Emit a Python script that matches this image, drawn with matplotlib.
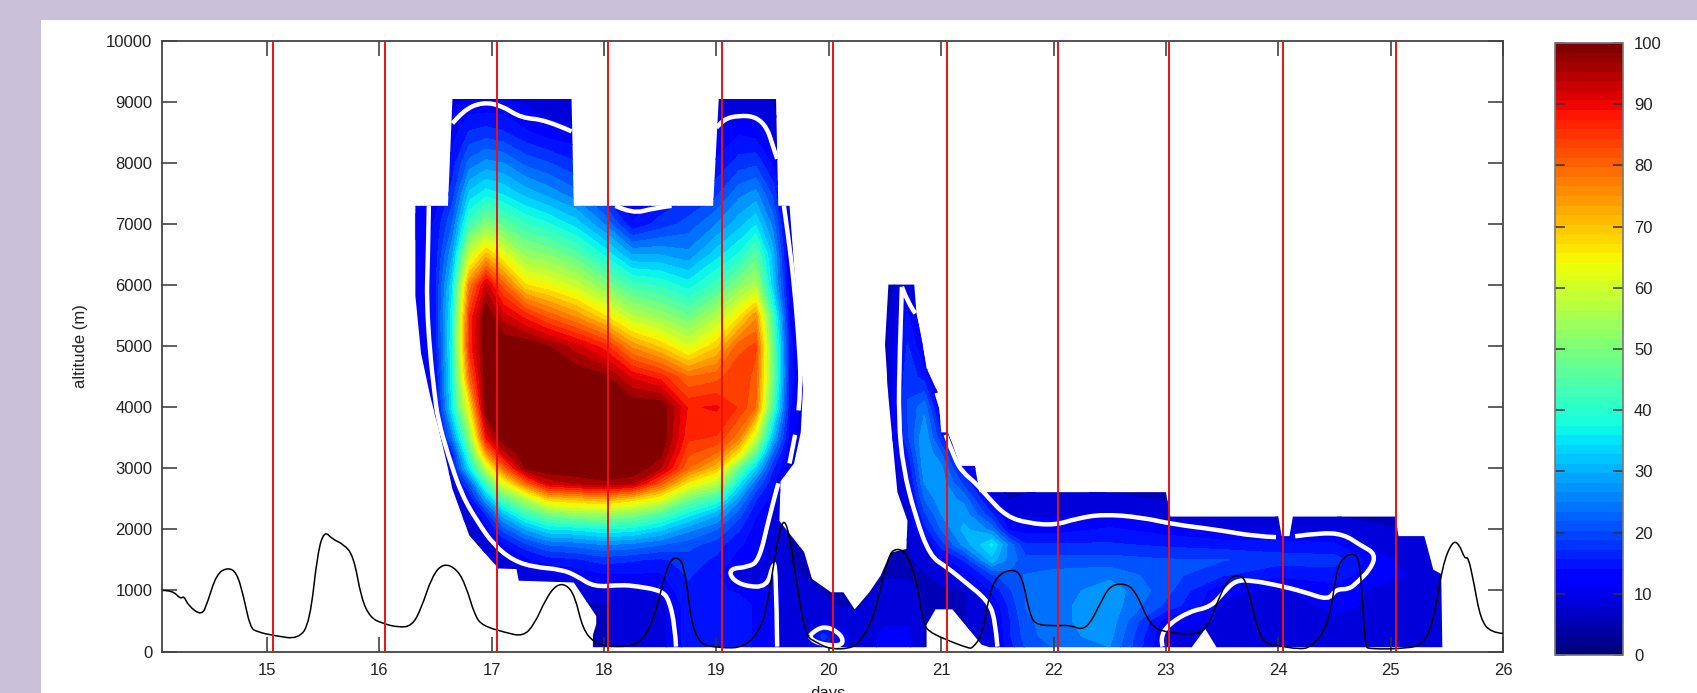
import matplotlib
matplotlib.use('Agg')
import matplotlib.pyplot as plt
from matplotlib.cm import ScalarMappable
from matplotlib.colors import Normalize
from matplotlib.path import Path
from matplotlib.patches import PathPatch, Rectangle
import numpy as np

plt.rcParams['font.family'] = ['Liberation Sans', 'DejaVu Sans']

# grid of the coloured field (days, altitude in m)
days_grid = [16.3, 16.5, 16.65, 16.8, 16.95, 17.1, 17.3, 17.5, 17.75, 18, 18.25, 18.5, 18.75, 19,
             19.2, 19.35, 19.5, 19.65, 19.8, 19.95, 20.1, 20.25, 20.5, 20.7, 20.85, 21, 21.2,
             21.45, 21.6, 21.75, 22, 22.5, 23, 23.5, 24, 24.5, 24.85, 25.2, 25.5]
alt_grid = [70, 250, 500, 750, 1000, 1250, 1500, 1750, 2000, 2250, 2500, 2750, 3000, 3250, 3500,
            4000, 4500, 5000, 5500, 6000, 6500, 7000, 7500, 8000, 8500, 9000, 9100]

# one line per day column, bottom to top
field_columns = [
    [5, 5, 5, 5, 5, 5, 5, 5, 5, 5, 5, 5, 5, 5, 6, 7, 8, 9, 9, 9, 9, 9, 9, 8, 5, 5, 5],
    [5, 5, 5, 5, 5, 5, 5, 5, 5, 5, 5, 5, 6, 7, 8, 10, 12, 14, 15, 15, 14, 13, 11, 9, 8, 6, 6],
    [5, 5, 5, 5, 5, 5, 5, 5, 5, 5, 6, 8, 12, 15, 24, 36, 37, 38, 37, 34, 28, 22, 17, 14, 11, 9, 9],
    [5, 5, 5, 5, 5, 5, 5, 5, 6, 8, 12, 20, 34, 42, 50, 64, 78, 85, 84, 76, 58, 42, 32, 23, 16, 10, 8],
    [5, 5, 5, 5, 5, 5, 6, 7, 10, 16, 28, 42, 57, 74, 88, 100, 100, 100, 100, 92, 70, 50, 36, 26, 17, 10, 8],
    [5, 5, 5, 5, 5, 6, 8, 12, 20, 30, 44, 60, 78, 92, 100, 100, 100, 100, 92, 80, 62, 46, 34, 25, 16, 10, 8],
    [5, 5, 5, 5, 6, 8, 11, 18, 28, 41, 55, 78, 97, 100, 100, 100, 100, 100, 86, 66, 52, 41, 30, 21, 13, 9, 8],
    [5, 5, 5, 5, 7, 9, 14, 22, 34, 48, 68, 91, 100, 100, 100, 100, 100, 97, 80, 63, 50, 38, 27, 19, 11, 7, 7],
    [5, 5, 5, 5, 8, 10, 15, 23, 35, 52, 70, 94, 100, 100, 100, 100, 100, 92, 74, 58, 45, 33, 23, 16, 10, 7, 7],
    [6, 6, 6, 6, 9, 12, 17, 25, 37, 52, 72, 96, 100, 100, 100, 100, 98, 86, 66, 50, 37, 25, 15, 10, 8, 7, 7],
    [7, 7, 7, 7, 9, 12, 16, 24, 36, 50, 68, 94, 100, 100, 100, 100, 90, 74, 56, 42, 28, 13, 8, 8, 7, 7, 7],
    [8, 8, 8, 8, 10, 12, 15, 22, 32, 44, 62, 80, 94, 98, 100, 100, 86, 68, 52, 40, 28, 17, 12, 9, 8, 7, 7],
    [14, 14, 14, 14, 15, 16, 17, 20, 26, 36, 48, 64, 78, 82, 85, 87, 78, 60, 47, 36, 26, 20, 15, 11, 9, 8, 8],
    [15, 15, 15, 14, 13, 13, 15, 17, 22, 29, 41, 56, 69, 78, 84, 88, 80, 68, 55, 42, 33, 25, 18, 13, 10, 8, 8],
    [14, 14, 14, 14, 12, 7, 11, 13, 16, 20, 26, 35, 46, 65, 76, 84, 84, 80, 65, 50, 38, 30, 24, 17, 12, 8, 8],
    [12, 12, 12, 12, 11, 8, 10, 11, 11, 13, 16, 22, 32, 45, 58, 78, 80, 82, 74, 55, 45, 34, 26, 18, 11, 8, 8],
    [11, 11, 11, 11, 11, 10, 9, 8, 8, 9, 11, 13, 16, 22, 30, 43, 48, 47, 42, 32, 30, 24, 18, 12, 8, 6, 6],
    [7, 7, 7, 7, 8, 7, 6, 6, 6, 6, 6, 7, 8, 9, 11, 13, 14, 14, 12, 10, 8, 7, 6, 5, 5, 5, 5],
    [8, 8, 8, 7, 7, 6, 5, 5, 5, 5, 5, 5, 5, 5, 6, 7, 7, 6, 6, 5, 5, 5, 5, 5, 5, 5, 5],
    [13, 17, 9, 7, 6, 5, 5, 5, 5, 5, 5, 5, 5, 5, 5, 5, 5, 5, 5, 5, 5, 5, 5, 5, 5, 5, 5],
    [10, 11, 8, 6, 5, 5, 5, 5, 5, 5, 5, 5, 5, 5, 5, 5, 5, 5, 5, 5, 5, 5, 5, 5, 5, 5, 5],
    [8, 8, 7, 6, 5, 5, 5, 5, 5, 5, 5, 5, 5, 5, 5, 5, 5, 5, 5, 5, 5, 5, 5, 5, 5, 5, 5],
    [10, 10, 9, 8, 7, 6, 6, 5, 5, 5, 5, 5, 5, 5, 5, 5, 5, 5, 5, 5, 5, 5, 5, 5, 5, 5, 5],
    [10, 10, 9, 8, 7, 6, 6, 6, 7, 7, 8, 10, 12, 15, 18, 19, 18, 16, 13, 8, 7, 7, 7, 7, 7, 7, 7],
    [6, 6, 6, 6, 6, 6, 7, 8, 14, 18, 22, 25, 27, 28, 28, 24, 14, 9, 6, 5, 5, 5, 5, 5, 5, 5, 5],
    [6, 6, 6, 6, 6, 7, 11, 17, 22, 25, 27, 27, 26, 22, 16, 9, 6, 5, 5, 5, 5, 5, 5, 5, 5, 5, 5],
    [6, 6, 6, 6, 6, 10, 16, 26, 29, 27, 24, 18, 12, 9, 6, 5, 5, 5, 5, 5, 5, 5, 5, 5, 5, 5, 5],
    [7, 7, 8, 9, 13, 18, 30, 35, 24, 16, 10, 8, 6, 5, 5, 5, 5, 5, 5, 5, 5, 5, 5, 5, 5, 5, 5],
    [14, 15, 15, 16, 18, 21, 24, 24, 12, 9, 6, 5, 5, 5, 5, 5, 5, 5, 5, 5, 5, 5, 5, 5, 5, 5, 5],
    [19, 20, 21, 22, 22, 22, 20, 16, 11, 9, 7, 5, 5, 5, 5, 5, 5, 5, 5, 5, 5, 5, 5, 5, 5, 5, 5],
    [22, 24, 24, 24, 23, 23, 20, 16, 11, 9, 8, 5, 5, 5, 5, 5, 5, 5, 5, 5, 5, 5, 5, 5, 5, 5, 5],
    [25, 26, 27, 27, 27, 24, 20, 16, 13, 9, 7, 5, 5, 5, 5, 5, 5, 5, 5, 5, 5, 5, 5, 5, 5, 5, 5],
    [9, 9, 11, 18, 20, 20, 19, 15, 11, 8, 6, 5, 5, 5, 5, 5, 5, 5, 5, 5, 5, 5, 5, 5, 5, 5, 5],
    [8, 8, 9, 9, 10, 16, 19, 14, 9, 6, 5, 5, 5, 5, 5, 5, 5, 5, 5, 5, 5, 5, 5, 5, 5, 5, 5],
    [8, 8, 8, 8, 9, 13, 17, 14, 8, 6, 5, 5, 5, 5, 5, 5, 5, 5, 5, 5, 5, 5, 5, 5, 5, 5, 5],
    [9, 9, 9, 10, 11, 14, 17, 13, 9, 6, 5, 5, 5, 5, 5, 5, 5, 5, 5, 5, 5, 5, 5, 5, 5, 5, 5],
    [9, 9, 9, 9, 9, 11, 11, 8, 7, 5, 5, 5, 5, 5, 5, 5, 5, 5, 5, 5, 5, 5, 5, 5, 5, 5, 5],
    [9, 9, 9, 9, 9, 9, 8, 7, 6, 5, 5, 5, 5, 5, 5, 5, 5, 5, 5, 5, 5, 5, 5, 5, 5, 5, 5],
    [9, 9, 9, 9, 9, 9, 8, 7, 6, 5, 5, 5, 5, 5, 5, 5, 5, 5, 5, 5, 5, 5, 5, 5, 5, 5, 5],
]

# outer edge of the coloured area
region_x = [17.9, 17.9, 17.93, 17.93, 17.85, 17.73, 17.24, 17.22, 17.06, 16.92, 16.8, 16.65, 16.61,
            16.54, 16.45, 16.37, 16.32, 16.32, 16.61, 16.65, 17.71, 17.73, 18.97, 19.02, 19.53,
            19.55, 19.65, 19.69, 19.77, 19.75, 19.69, 19.57, 19.56, 19.78, 19.85, 20.02, 20.13,
            20.23, 20.36, 20.46, 20.55, 20.69, 20.70, 20.61, 20.53, 20.5, 20.53, 20.76, 20.78,
            20.88, 20.97, 21.0, 21.06, 21.17, 21.3, 21.34, 23.0, 23.04, 24.0, 24.03, 24.1, 24.13,
            25.04, 25.07, 25.3, 25.38, 25.45, 25.46, 23.45, 23.35, 23.23, 21.43, 21.36, 21.1,
            20.95, 20.87, 20.87]
region_y = [70, 270, 450, 580, 800, 1130, 1160, 1350, 1360, 1650, 1900, 2660, 3000,
            3550, 4200, 4890, 5830, 7300, 7300, 9050, 9050, 7300, 7300, 9050, 9050,
            7300, 7300, 6340, 4310, 3590, 3080, 2790, 2140, 1630, 1190, 970, 970,
            690, 970, 1240, 1620, 1680, 2140, 2610, 4170, 5030, 6010, 6010, 5540,
            4600, 4240, 3590, 3590, 3040, 3040, 2610, 2610, 2210, 2210, 1890, 1890, 2210,
            2210, 1890, 1890, 1340, 1270, 70, 70, 370, 70, 70, 110, 690,
            690, 440, 70]

# white 10 % isoline, piece by piece
white_lines = [
    ([16.65, 16.75, 16.92, 17.09, 17.26, 17.48, 17.71], [8650, 8870, 9000, 8940, 8740, 8710, 8520]),
    ([19.0, 19.06, 19.2, 19.35, 19.45, 19.5, 19.54], [8580, 8720, 8780, 8760, 8580, 8290, 8070]),
    ([18.1, 18.25, 18.44, 18.6], [7300, 7170, 7260, 7300]),
    ([16.44, 16.43, 16.42, 16.45, 16.49, 16.52, 16.61, 16.73, 16.88, 17.02, 17.19, 17.38, 17.62,
      17.76, 17.91, 18.15, 18.29, 18.51, 18.58, 18.63, 18.64],
     [7296, 6334, 5756, 4888, 4237, 3803, 3225, 2574, 2104, 1743, 1490, 1381, 1345,
      1236, 1056, 1092, 1070, 998, 839, 405, 80]),
    ([19.6, 19.63, 19.69, 19.74, 19.75, 19.73], [7300, 6912, 6045, 4888, 4310, 3948]),
    ([19.7, 19.65], [3550, 3080]),
    ([19.55, 19.47, 19.38, 19.28, 19.12, 19.13, 19.25, 19.45, 19.5, 19.53, 19.54],
     [2755, 2213, 1490, 1381, 1359, 1200, 1070, 1056, 1417, 1417, 80]),
    ([19.83, 19.9, 20.02, 20.13, 20.11, 19.85, 19.83], [257, 393, 393, 230, 76, 148, 257]),
    ([20.65, 20.63, 20.62, 20.66, 20.77, 20.9, 21.05, 21.22, 21.41, 21.48, 21.5],
     [5973, 4888, 3803, 3008, 2213, 1562, 1381, 1128, 839, 550, 80]),
    ([20.65, 20.71, 20.77], [5973, 5683, 5539]),
    ([20.86, 20.89], [4996, 4635]),
    ([20.96, 21.02], [4237, 3876]),
    ([21.04, 21.12, 21.19, 21.31, 21.41, 21.58, 21.77, 22.01, 22.2, 22.44, 22.78, 23.07, 23.45,
      23.79, 23.98],
     [3550, 3153, 2936, 2755, 2538, 2213, 2104, 2068, 2176, 2249, 2198, 2082, 1996, 1887, 1873]),
    ([24.15, 24.37, 24.58, 24.73, 24.87, 24.82, 24.7, 24.63, 24.51, 24.45, 24.22, 23.98, 23.76,
      23.62, 23.52, 23.4, 23.21, 23.02, 22.95, 22.97],
     [1887, 1945, 1923, 1743, 1598, 1345, 1128, 1020, 1020, 839, 983, 1092, 1164,
      1164, 983, 730, 658, 441, 224, 80]),
]

# black curve
curve_days = [14.07, 14.16, 14.23, 14.26, 14.30, 14.42, 14.47, 14.55, 14.65, 14.73, 14.79, 14.85, 14.91,
              15.07, 15.28, 15.38, 15.45, 15.51, 15.58, 15.68, 15.77, 15.84, 15.92, 16.02, 16.17,
              16.29, 16.37, 16.47, 16.57, 16.69, 16.77, 16.85, 16.92, 17.12, 17.28, 17.38, 17.48,
              17.57, 17.66, 17.74, 17.81, 17.91, 18.03, 18.31, 18.43, 18.51, 18.58, 18.66, 18.72,
              18.80, 19.02, 19.26, 19.41, 19.47, 19.57, 19.63, 19.71, 19.79, 19.89, 20.01, 20.19,
              20.27, 20.40, 20.53, 20.61, 20.69, 20.78, 20.84, 20.88, 21.03, 21.24, 21.28, 21.37,
              21.43, 21.51, 21.64, 21.72, 21.79, 21.85, 22.04, 22.14, 22.29, 22.42, 22.50, 22.63,
              22.73, 22.86, 23.0, 23.28, 23.38, 23.49, 23.57, 23.66, 23.72, 23.84, 24.01, 24.18,
              24.29, 24.45, 24.52, 24.58, 24.66, 24.73, 24.77, 24.81, 25.15, 25.29, 25.38, 25.46,
              25.55, 25.61, 25.66, 25.69, 25.74, 25.80, 25.89, 26.0]
curve_alt = [1000, 1000, 858, 912, 748, 585, 803, 1268, 1377, 1295, 912, 393, 322,
             257, 202, 475, 1623, 1978, 1841, 1759, 1568, 858, 557, 464, 393,
             421, 694, 1240, 1448, 1350, 1076, 585, 421, 311, 246, 448, 858,
             1087, 1104, 912, 366, 148, 76, 93, 475, 1022, 1486, 1557, 1350,
             148, 55, 66, 421, 967, 2115, 2115, 1186, 257, 148, 38, 49,
             148, 530, 1596, 1694, 1612, 1186, 475, 339, 202, 55, 55, 284,
             967, 1268, 1350, 1240, 585, 432, 421, 432, 339, 803, 1076, 1120,
             994, 421, 311, 273, 421, 967, 1213, 1257, 1131, 148, 93, 38,
             66, 421, 1350, 1541, 1612, 1514, 93, 38, 49, 120, 475, 1404,
             1814, 1759, 1514, 1557, 1131, 530, 311, 295]

red_days = [15.05, 16.05, 17.05, 18.03, 19.05, 20.04, 21.05, 22.04, 23.03, 24.04, 25.05]
x_ticks = list(range(15, 27))
y_ticks = list(range(0, 10001, 1000))
bar_ticks = list(range(0, 101, 10))


# rounded line with the read points as quadratic control points
def roundedPath(xs, ys):
    pts = np.column_stack([xs, ys])
    if len(pts) < 3:
        return Path(pts)
    verts = [pts[0]]
    codes = [Path.MOVETO]
    for i in range(1, len(pts) - 1):
        end = pts[i + 1] if i == len(pts) - 2 else (pts[i] + pts[i + 1]) / 2
        verts += [pts[i], end]
        codes += [Path.CURVE3, Path.CURVE3]
    return Path(verts, codes)


W, H = 1697, 693
fig = plt.figure(figsize=(W / 100, H / 100), dpi=100, facecolor='white')

# lilac page bands behind the plot
fig.patches.append(Rectangle((0, 1 - 20 / H), 1, 20 / H, transform=fig.transFigure, color='#cbc0da', lw=0))
fig.patches.append(Rectangle((0, 0), 41 / W, 1, transform=fig.transFigure, color='#cbc0da', lw=0))

ax = fig.add_axes([162 / W, 1 - 651.5 / H, (1503 - 162) / W, (651.5 - 41) / H])
ax.set_xlim(14.065, 26)
ax.set_ylim(0, 10000)

field = np.array(field_columns, dtype=float).T
levels = np.linspace(0, 100, 33)
cf = ax.contourf(days_grid, alt_grid, field, levels=levels, cmap='jet', vmin=0, vmax=98.4, zorder=1)
cf.set_clip_path(Path(np.column_stack([region_x, region_y])), ax.transData)

for xs, ys in white_lines:
    ax.add_patch(PathPatch(roundedPath(xs, ys), fill=False, edgecolor='white', lw=3.2,
                           capstyle='butt', zorder=2))

ax.add_patch(PathPatch(roundedPath(curve_days, curve_alt), fill=False, edgecolor='black', lw=1.1, zorder=3))
for d in red_days:
    ax.axvline(d, color='#f01010', lw=1.4, zorder=4)

ax.set_xticks(x_ticks)
ax.set_yticks(y_ticks)
ax.tick_params(axis='both', direction='in', length=11, width=1.1, color='#333333', top=True, right=True,
               labelsize=12, labelcolor='#222222')
ax.tick_params(axis='x', pad=8)
ax.tick_params(axis='y', pad=7)
for spine in ax.spines.values():
    spine.set_linewidth(1.3)
    spine.set_color('#444444')
ax.set_xlabel('days', fontsize=12, color='#222222', labelpad=6, x=0.4965)
ax.set_ylabel('altitude (m)', fontsize=12, color='#222222', labelpad=13)

cax = fig.add_axes([1555 / W, 1 - 655 / H, 68 / W, 612 / H])
bar_map = ScalarMappable(norm=Normalize(0, 100), cmap=plt.get_cmap('jet', 64))
cb = fig.colorbar(bar_map, cax=cax, ticks=bar_ticks)
cb.ax.tick_params(direction='in', length=7, width=1.1, color='#333333', left=True, right=True,
                  labelsize=12, labelcolor='#222222', pad=8)
cb.outline.set_edgecolor('#777777')
cb.outline.set_linewidth(1.2)

fig.savefig('out.png', dpi=100)
